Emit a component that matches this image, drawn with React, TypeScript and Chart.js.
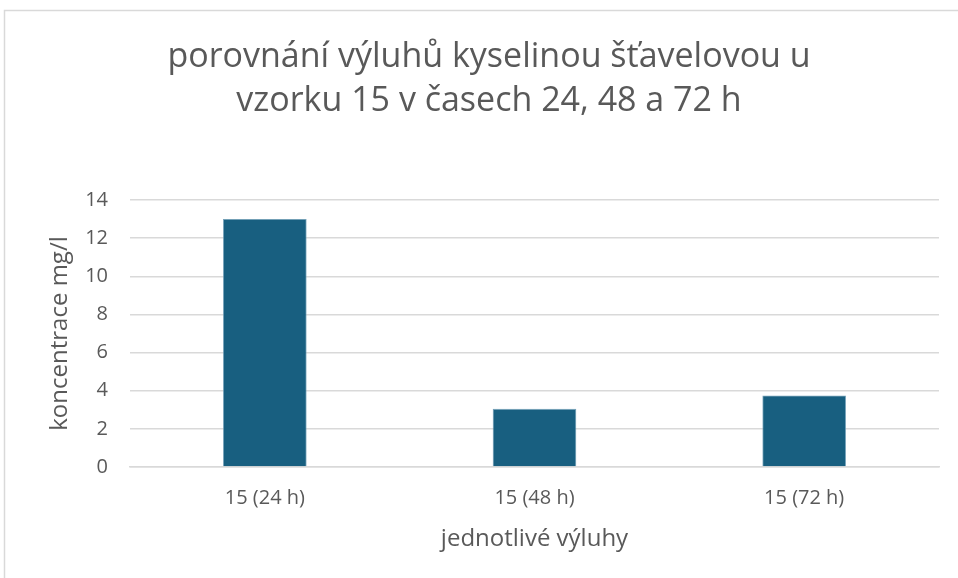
import React, { useEffect, useRef } from "react";
import { Chart, registerables } from "chart.js";

Chart.register(...registerables);

const categories = ["15 (24 h)", "15 (48 h)", "15 (72 h)"];
const values = [13, 3.05, 3.75];
const titleLines = ["porovnání výluhů kyselinou šťavelovou u", "vzorku 15 v časech 24, 48 a 72 h"];
const yTitle = "koncentrace mg/l";
const xTitle = "jednotlivé výluhy";

const FONT = "'Open Sans', Roboto, sans-serif";
const GREY = "#595959";

const borderPlugin = {
  id: "outerBorder",
  beforeDraw(chart: any) {
    const ctx = chart.ctx;
    ctx.save();
    ctx.fillStyle = "#ffffff";
    ctx.fillRect(0, 0, chart.width, chart.height);
    ctx.strokeStyle = "#d9d9d9";
    ctx.lineWidth = 1.5;
    ctx.beginPath();
    ctx.moveTo(4.5, chart.height + 5);
    ctx.lineTo(4.5, 10.5);
    ctx.lineTo(chart.width + 5, 10.5);
    ctx.stroke();
    ctx.restore();
  },
};

export default function App() {
  const ref = useRef<HTMLCanvasElement>(null);
  useEffect(() => {
    if (!ref.current) return;
    const chart = new Chart(ref.current, {
      type: "bar",
      data: {
        labels: categories,
        datasets: [
          {
            data: values,
            backgroundColor: "#185F80",
            borderColor: "#6f9fb8",
            borderWidth: 0.8,
            barPercentage: 0.31,
            categoryPercentage: 1,
          },
        ],
      },
      options: {
        animation: false,
        responsive: false,
        layout: { padding: { top: 35, right: 19, bottom: 0, left: 39 } },
        plugins: {
          legend: { display: false },
          tooltip: { enabled: false },
          title: {
            display: true,
            text: titleLines,
            color: GREY,
            font: { family: FONT, size: 34, weight: "normal", lineHeight: 44 / 34 },
            padding: { top: 0, bottom: 77 },
          },
        },
        scales: {
          x: {
            grid: { display: false, drawTicks: false },
            border: { display: true, color: "#d9d9d9", width: 1.5 },
            ticks: { color: GREY, font: { family: FONT, size: 20 }, padding: 19 },
            title: {
              display: true,
              text: xTitle,
              color: GREY,
              font: { family: FONT, size: 24 },
              padding: { top: 0, bottom: 24 },
            },
            afterFit: (s: any) => {
              s.height = 111;
            },
          },
          y: {
            min: 0,
            max: 14,
            grid: { color: "#d9d9d9", lineWidth: 1.5, drawTicks: false },
            border: { display: false },
            ticks: { stepSize: 2, color: GREY, font: { family: FONT, size: 20 }, padding: 22 },
            title: {
              display: true,
              text: yTitle,
              color: GREY,
              font: { family: FONT, size: 24 },
              padding: { top: 7, bottom: 0 },
            },
            afterFit: (s: any) => {
              s.width = 91;
            },
          },
        },
      },
      plugins: [borderPlugin],
    });
    return () => chart.destroy();
  }, []);
  return (
    <div style={{ position: "absolute", left: 0, top: 0, width: 958, height: 578 }}>
      <canvas ref={ref} width={958} height={578} style={{ display: "block" }} />
    </div>
  );
}
